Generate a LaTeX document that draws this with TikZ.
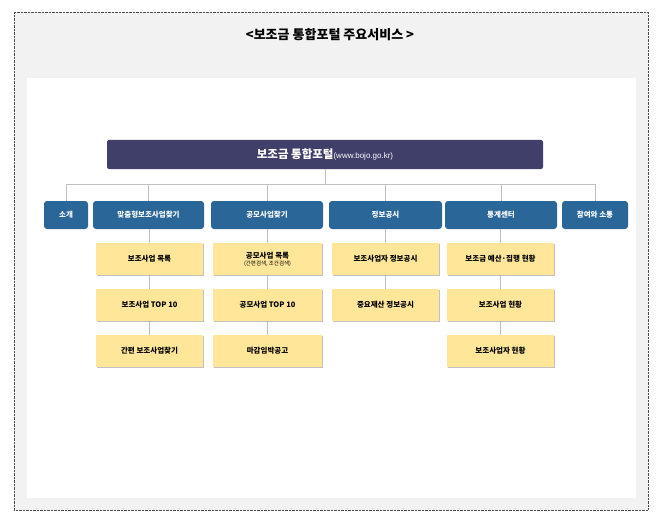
\documentclass[tikz,border=0pt]{standalone}
\usepackage{fontspec}
\usetikzlibrary{shadows}
\setmainfont{Noto Sans CJK KR}
\newfontfamily\latinf{Liberation Sans}
\definecolor{navy}{HTML}{3F3F6A}
\definecolor{blu}{HTML}{2B6699}
\definecolor{yel}{HTML}{FFE699}
\definecolor{bggray}{HTML}{F2F2F2}
\definecolor{ln}{HTML}{BFBFBF}
\begin{document}
\begin{tikzpicture}[x=1pt,y=-1pt,
  bbox/.style={fill=blu,rounded corners=3pt,text=white,font=\fontsize{7.5}{9}\selectfont\bfseries,inner sep=0pt},
  ybox/.style={fill=yel,text=black,font=\fontsize{7.5}{9}\selectfont\bfseries,inner sep=0pt,drop shadow={shadow xshift=0.5pt,shadow yshift=-1pt,fill=black!40,opacity=0.6}},
  conn/.style={draw=ln,line width=0.8pt}]
\useasboundingbox (0,0) rectangle (661,524);
\fill[white] (0,0) rectangle (661,524);
\fill[bggray] (14,12) rectangle (648,510);
\draw[densely dotted,black!70] (14,12) rectangle (648,510);
\fill[white] (27,78) rectangle (636,498);
\node (title) at (330,35) {\fontsize{13}{15}\selectfont\bfseries <보조금 통합포털 주요서비스 >};
\node[fill=navy,rounded corners=2pt,minimum width=436pt,minimum height=29pt,text=white,inner sep=0pt] (top) at (325,154.5)
 {\fontsize{11.5}{13}\selectfont\bfseries 보조금 통합포털{\latinf\mdseries\fontsize{8}{10}\selectfont(www.bojo.go.kr)}};
\def\bb#1#2#3#4{\node[bbox,minimum width=#3pt,minimum height=28pt] (#1) at (#2,215) {#4};}
\bb{b1}{66}{44}{소개}
\bb{b2}{148.5}{111}{맞춤형보조사업찾기}
\bb{b3}{267}{112}{공모사업찾기}
\bb{b4}{385.5}{113}{정보공시}
\bb{b5}{501}{112}{통계센터}
\bb{b6}{595}{66}{참여와 소통}
\coordinate (hl) at (66,184);
\coordinate (hr) at (595,184);
\draw[conn] (top.south) -- (325,184);
\draw[conn] (b1.north) |- (hr) -- (b6.north);
\foreach \n in {b2,b3,b4,b5} \draw[conn] (\n.north) -- (\n.north|-hl);
\def\yy#1#2#3#4{\node[ybox,minimum width=107pt,minimum height=32pt] (#1) at (#2,#3) {#4};}
\draw[conn] (149.5,229) -- (149.5,351);
\draw[conn] (267.5,229) -- (267.5,351);
\draw[conn] (385.5,229) -- (385.5,305);
\draw[conn] (500.5,229) -- (500.5,351);
\yy{c11}{149.5}{259}{보조사업 목록}
\yy{c12}{149.5}{305}{보조사업 TOP 10}
\yy{c13}{149.5}{351}{간편 보조사업찾기}
\node[ybox,minimum width=109pt,minimum height=32pt,align=center] (c21) at (267.5,259) {공모사업 목록\\[-2pt]{\mdseries\fontsize{5.5}{6}\selectfont(간편검색, 조건검색)}};
\node[ybox,minimum width=109pt,minimum height=32pt] (c22) at (267.5,305) {공모사업 TOP 10};
\node[ybox,minimum width=109pt,minimum height=32pt] (c23) at (267.5,351) {마감임박공고};
\yy{c31}{385.5}{259}{보조사업자 정보공시}
\yy{c32}{385.5}{305}{중요재산 정보공시}
\yy{c41}{500.5}{259}{보조금 예산·집행 현황}
\yy{c42}{500.5}{305}{보조사업 현황}
\yy{c43}{500.5}{351}{보조사업자 현황}
\end{tikzpicture}
\end{document}
